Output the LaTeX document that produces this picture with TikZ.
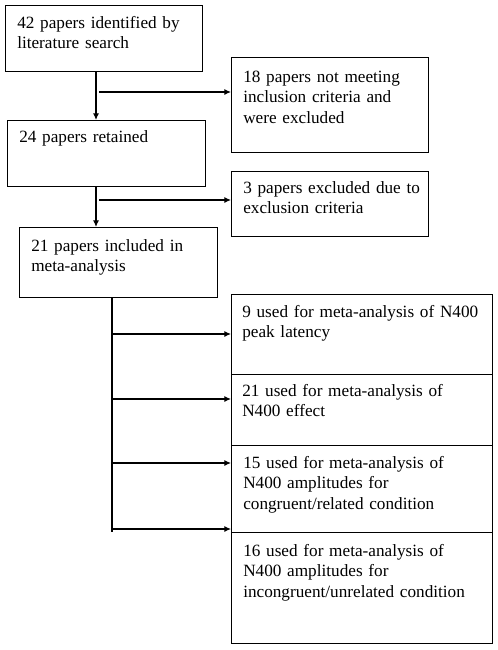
\documentclass[tikz,border=0pt]{standalone}
\usepackage{fontspec}
\setmainfont{Liberation Serif}
\usetikzlibrary{arrows.meta,calc}
\begin{document}
\begin{tikzpicture}[x=0.75pt,y=-0.75pt,
  box/.style 2 args={draw, line width=0.8pt, anchor=north west, inner sep=0pt,
    minimum width=#1*0.75pt, minimum height=#2*0.75pt},
  txt/.style={anchor=base west, inner sep=0pt, text width=250pt, align=left,
    font=\fontsize{12.9}{15.4}\selectfont},
  arr/.style={-{Latex[length=5pt,width=4.5pt]}, line width=0.8pt},
  plain/.style={line width=0.8pt}]
\useasboundingbox (0,0) rectangle (498,650);
% boxes
\node[box={197}{66}] (b1) at (5,5) {};
\node[box={197}{95}] (e1) at (231,57) {};
\node[box={198}{66}] (b2) at (7,120) {};
\node[box={197}{65}] (e2) at (231,171) {};
\node[box={198}{70}] (b3) at (19,227) {};
\node[box={261}{80}] (ra) at (231,294) {};
\node[box={261}{71}] (rb) at (231,374) {};
\node[box={261}{87}] (rc) at (231,445) {};
\node[box={261}{111}] (rd) at (231,532) {};
% texts
\node[txt] (t1) at ($(b1.north west)+(12,23)$) {42 papers identified by\\literature search};
\node[txt] (te1) at ($(e1.north west)+(12,25)$) {18 papers not meeting\\inclusion criteria and\\were excluded};
\node[txt] (t2) at ($(b2.north west)+(12,22)$) {24 papers retained};
\node[txt] (te2) at ($(e2.north west)+(12,22)$) {3 papers excluded due to\\exclusion criteria};
\node[txt] (t3) at ($(b3.north west)+(12,24)$) {21 papers included in\\meta-analysis};
\node[txt] (tra) at ($(ra.north west)+(11,23)$) {9 used for meta-analysis of N400\\peak latency};
\node[txt] (trb) at ($(rb.north west)+(11,22)$) {21 used for meta-analysis of\\N400 effect};
\node[txt] (trc) at ($(rc.north west)+(12,23)$) {15 used for meta-analysis of\\N400 amplitudes for\\congruent/related condition};
\node[txt] (trd) at ($(rd.north west)+(12,24)$) {16 used for meta-analysis of\\N400 amplitudes for\\incongruent/unrelated condition};
% connectors
\coordinate (s1) at (96,0);
\draw[arr] (b1.south -| s1) -- (b2.north -| s1);
\coordinate (j1) at (99,92);
\draw[arr] (j1) -- (j1 -| e1.west);
\draw[arr] (b2.south -| s1) -- (b3.north -| s1);
\coordinate (j2) at (99,200);
\draw[arr] (j2) -- (j2 -| e2.west);
\coordinate (s2) at (112,532);
\draw[plain] (b3.south -| s2) -- (s2);
\coordinate (k1) at (112,334);
\coordinate (k2) at (112,399);
\coordinate (k3) at (112,463);
\coordinate (k4) at (112,529);
\draw[arr] (k1) -- (k1 -| ra.west);
\draw[arr] (k2) -- (k2 -| rb.west);
\draw[arr] (k3) -- (k3 -| rc.west);
\draw[arr] (k4) -- (k4 -| rd.west);
\end{tikzpicture}
\end{document}
